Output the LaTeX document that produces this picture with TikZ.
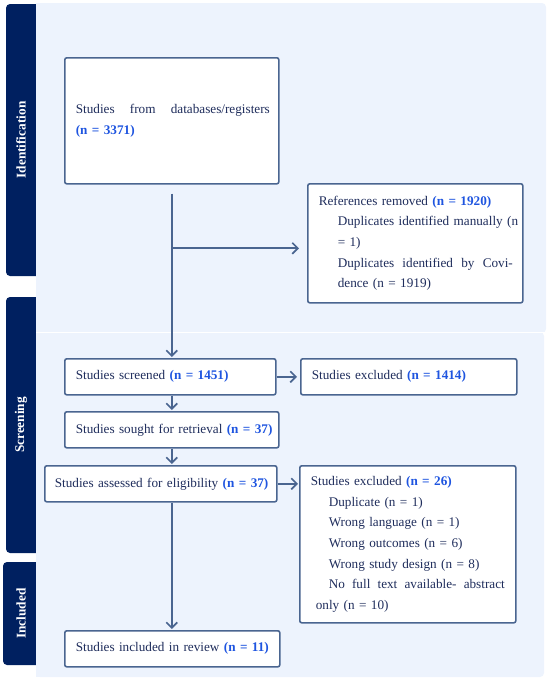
\documentclass[tikz,border=0pt]{standalone}
\usepackage{fontspec}
\setmainfont{Liberation Serif}
\usetikzlibrary{arrows.meta}
\definecolor{navy}{HTML}{002060}
\definecolor{panel}{HTML}{EDF3FD}
\definecolor{boxc}{HTML}{4A6590}
\definecolor{txt}{HTML}{1F2D5C}
\definecolor{numblue}{HTML}{1F55E0}
\newcommand{\nb}[1]{\textbf{\color{numblue}#1}}
\tikzset{
  side/.style={fill=navy, rounded corners=4pt},
  sidelabel/.style={text=white, font=\fontsize{13.3}{14}\selectfont\bfseries, rotate=90},
  bg/.style={fill=panel, rounded corners=4pt},
  box/.style={draw=boxc, fill=white, line width=1.6pt, rounded corners=2pt,
    inner xsep=11pt, inner ysep=0pt, align=left, anchor=north west, text=txt,
    font=\fontsize{13.2}{20.7}\selectfont},
  arr/.style={draw=boxc, line width=1.7pt, -{Straight Barb[length=5.5pt,width=11pt,line width=1.7pt]}}
}
\begin{document}
\begin{tikzpicture}[x=1pt,y=-1pt]
\useasboundingbox (0,0) rectangle (550,680);
% sidebars
\fill[side] (6,4) rectangle (44,276);
\fill[side] (6,297) rectangle (44,553);
\fill[side] (3,562) rectangle (44,665);
% panels
\fill[bg] (36,3) rectangle (546,333);
\fill[bg] (36,332) rectangle (544,677);
\fill[panel] (36,3) rectangle (44,677);
\draw[white, line width=0.9pt] (36,332.5) -- (545,332.5);
% sidebar labels
\node[sidelabel] (lid) at (21,140) {Identification};
\node[sidelabel] (lsc) at (21,425) {Screening};
\node[sidelabel] (lin) at (21,613.5) {Included};
% boxes
\node[box, minimum width=214pt, minimum height=126pt, text width=192pt] (db) at (64,57)
  {\hbox to 194pt{Studies \hfill from \hfill databases/registers}\\ \nb{(n = 3371)}};
\node[box, minimum width=215pt, minimum height=119pt, text width=193pt] (ref) at (307,183)
  {\mbox{References removed \nb{(n = 1920)}}\\
   \hspace*{19pt}\hbox to 175pt{Duplicates \hfill identified \hfill manually \hfill (n}\\
   \hspace*{19pt}= 1)\\
   \hspace*{19pt}\hbox to 175pt{Duplicates \hfill identified \hfill by \hfill Covi-}\\
   \hspace*{19pt}dence (n = 1919)};
\node[box, minimum width=211pt, minimum height=36pt, text width=189pt] (scr) at (64,358)
  {\mbox{Studies screened \nb{(n = 1451)}}};
\node[box, minimum width=216pt, minimum height=36pt, text width=194pt] (ex1) at (300,358)
  {\mbox{Studies excluded \nb{(n = 1414)}}};
\node[box, minimum width=214pt, minimum height=36pt, text width=192pt] (sou) at (64,411)
  {\mbox{Studies sought for retrieval \nb{(n = 37)}}};
\node[box, minimum width=232pt, minimum height=36pt, text width=212pt, inner xsep=10pt] (ass) at (44,465)
  {\mbox{Studies assessed for eligibility \nb{(n = 37)}}};
\node[box, minimum width=216pt, minimum height=157pt, text width=194pt] (ex2) at (299,465)
  {\mbox{Studies excluded \nb{(n = 26)}}\\
   \hspace*{18pt}Duplicate (n = 1)\\
   \hspace*{18pt}Wrong language (n = 1)\\
   \hspace*{18pt}Wrong outcomes (n = 6)\\
   \hspace*{18pt}Wrong study design (n = 8)\\
   \hspace*{18pt}\hbox to 176pt{No \hfill full \hfill text \hfill available- \hfill abstract}\\
   \hspace*{5pt}only (n = 10)};
\node[box, minimum width=215pt, minimum height=36pt, text width=193pt] (inc) at (64,630)
  {\mbox{Studies included in review \nb{(n = 11)}}};
% connectors
\coordinate (br) at ([yshift=-5pt]db.south |- ref.west);
\draw[arr, shorten <=9pt, shorten >=1pt] (db.south) -- (db.south |- scr.north);
\draw[arr, shorten >=8pt] (br) -- (br -| ref.west);
\draw[arr, shorten >=3pt] (scr.east) -- (ex1.west);
\draw[arr, shorten >=1pt] (db.south |- scr.south) -- (db.south |- sou.north);
\draw[arr, shorten >=1pt] (db.south |- sou.south) -- (db.south |- ass.north);
\draw[arr, shorten >=1pt] (ass.east) -- (ass.east -| ex2.west);
\draw[arr, shorten >=1pt] (db.south |- ass.south) -- (db.south |- inc.north);
\end{tikzpicture}
\end{document}
